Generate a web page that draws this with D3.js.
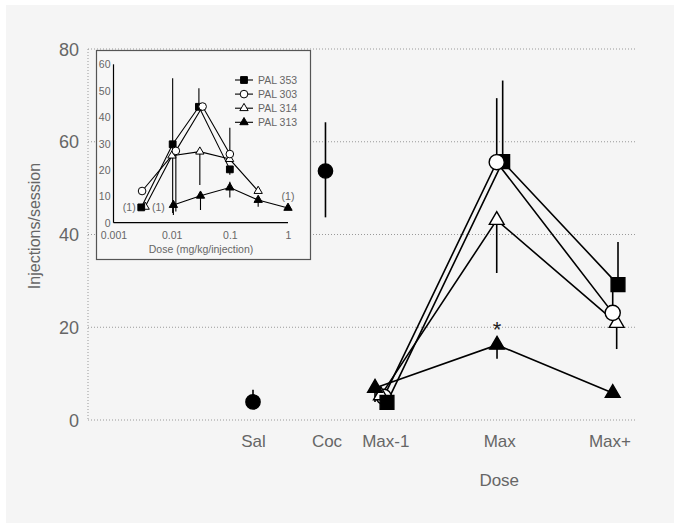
<!DOCTYPE html>
<html><head><meta charset="utf-8">
<script src="https://cdn.jsdelivr.net/npm/d3@7"></script>
<style>
html,body{margin:0;padding:0;background:#fff;}
svg{display:block;font-family:"Liberation Sans",Arial,sans-serif;}
</style></head>
<body>
<script>
// ---------- DATA ----------
const categories = ["Sal", "Coc", "Max-1", "Max", "Max+"];
const categoryPos = [1, 2, 2.8, 4.35, 5.85];
const yTicks = [0, 20, 40, 60, 80];

// Saline / Cocaine controls (filled circles)
const ctrlX = [1.0, 1.986];
const ctrlY = [3.9, 53.7];
const ctrlErrUp = [2.6, 10.5];
const ctrlErrDown = [0, 10];

const seriesNames = ["PAL 353", "PAL 303", "PAL 314", "PAL 313"];
const seriesSymbols = ["square", "circle", "triangle", "triangle"];
const seriesFilled = [true, false, false, true];

// main panel (Max-1, Max, Max+)
const mainX = [
  [2.823, 4.397, 5.966],
  [2.78, 4.316, 5.894],
  [2.74, 4.316, 5.948],
  [2.66, 4.32, 5.894]
];
const mainY = [
  [3.8, 55.7, 29.2],
  [5.0, 55.6, 23.1],
  [5.3, 43.1, 20.9],
  [6.9, 16.2, 5.8]
];
const mainErrUp = [
  [0, 17.5, 9.2],
  [0, 13.8, 4.5],
  [0, 0, 0],
  [0, 0, 0]
];
const mainErrDown = [
  [0, 0, 0],
  [0, 0, 0],
  [1.5, 11.4, 5.6],
  [3, 3, 0]
];

// inset (dose-response)
const insetX = [
  [0.003, 0.0104, 0.0294, 0.1],
  [0.0031, 0.0118, 0.034, 0.1],
  [0.0035, 0.0101, 0.0305, 0.099, 0.307],
  [0.0107, 0.0313, 0.1, 0.307, 1.0]
];
const insetY = [
  [5.8, 29.7, 43.9, 20.2],
  [12, 27.2, 44, 26],
  [6, 25.4, 26.9, 24.1, 12],
  [6.7, 10.2, 13.3, 8.6, 5.6]
];
const insetErrUp = [
  [0, 25, 7, 0],
  [0, 0, 0, 10],
  [0, 0, 0, 0, 0],
  [0, 0, 2.2, 0, 0]
];
const insetErrDown = [
  [0, 26, 0, 2],
  [0, 23, 0, 0],
  [0, 0, 12.6, 0, 0],
  [3.8, 5.4, 3.8, 2.6, 0]
];
const insetYTicks = [0, 10, 20, 30, 40, 50, 60];
const insetXTicks = [0.001, 0.01, 0.1, 1];
const insetXTickLabels = ["0.001", "0.01", "0.1", "1"];
const insetNotes = [
  {dose: 0.003, value: 5.8, text: "(1)"},
  {dose: 0.0107, value: 5.6, text: "(1)"},
  {dose: 1.0, value: 5.6, text: "(1)"}
];

// ---------- DRAW ----------
const W = 674, H = 523;
const svg = d3.select("body").append("svg").attr("width", W).attr("height", H);
svg.append("rect").attr("x", 6).attr("y", 5).attr("width", W - 6).attr("height", H - 5).attr("fill", "#f5f5f5");

const textCol = "#666";
const x = d3.scaleLinear().domain([0, 6]).range([179.5, 620.5]);
const y = d3.scaleLinear().domain([0, 80]).range([420, 49]);
const gridX0 = 88, gridX1 = 636;

const symType = {square: d3.symbolSquare, circle: d3.symbolCircle, triangle: d3.symbolTriangle};
const mainSize = {square: 190, circle: 180, triangle: 95};
const insetSize = {square: 46, circle: 46, triangle: 30};

// grid
const g = svg.append("g");
g.selectAll("line.grid").data(yTicks).join("line")
  .attr("x1", gridX0).attr("x2", gridX1)
  .attr("y1", d => y(d)).attr("y2", d => y(d))
  .attr("stroke", "#999").attr("stroke-width", 1).attr("stroke-dasharray", "1,2");
g.append("line").attr("x1", gridX0).attr("x2", gridX0).attr("y1", y(80)).attr("y2", y(0))
  .attr("stroke", "#999").attr("stroke-width", 1).attr("stroke-dasharray", "1,2");

// y axis labels
const yAxis = d3.axisLeft(y).tickValues(yTicks).tickSize(0).tickPadding(0);
const ya = svg.append("g").attr("transform", `translate(${gridX0 - 9},0)`).call(yAxis);
ya.select(".domain").remove();
ya.selectAll("text").attr("fill", textCol).attr("font-size", 18).attr("dy", "0.34em");

svg.append("text").attr("transform", "translate(40,226) rotate(-90)")
  .attr("text-anchor", "middle").attr("fill", textCol).attr("font-size", 16)
  .text("Injections/session");

// x category labels
const xAxis = d3.axisBottom(x).tickValues(categoryPos).tickFormat((d, i) => categories[i]).tickSize(0).tickPadding(0);
const xa = svg.append("g").attr("transform", `translate(0,${y(0) + 27})`).call(xAxis);
xa.select(".domain").remove();
xa.selectAll("text").attr("fill", textCol).attr("font-size", 17).attr("dy", 0);
svg.append("text").attr("x", x(categoryPos[3])).attr("y", 486).attr("text-anchor", "middle")
  .attr("fill", textCol).attr("font-size", 17).text("Dose");

function drawSeries(parent, xs, ys, eu, ed, sx, sy, lw, drawLine) {
  const pts = xs.map((v, i) => ({x: v, y: ys[i], eu: eu[i], ed: ed[i], i: i}));
  if (drawLine) {
    parent.append("path").datum(pts)
      .attr("d", d3.line().x(d => sx(d.x)).y(d => sy(d.y)))
      .attr("fill", "none").attr("stroke", "#000").attr("stroke-width", lw);
  }
  parent.selectAll(null).data(pts.filter(d => d.eu > 0 || d.ed > 0)).join("line")
    .attr("x1", d => sx(d.x)).attr("x2", d => sx(d.x))
    .attr("y1", d => sy(d.y + d.eu)).attr("y2", d => sy(d.y - d.ed))
    .attr("stroke", "#000").attr("stroke-width", lw);
  return pts;
}
function drawMarkers(parent, pts, sx, sy, sym, filled, size, lw) {
  parent.selectAll(null).data(pts).join("path")
    .attr("transform", d => `translate(${sx(d.x)},${sy(d.y)})`)
    .attr("d", d3.symbol().type(symType[sym]).size(size[sym]))
    .attr("fill", filled ? "#000" : "#fff").attr("stroke", "#000").attr("stroke-width", lw);
}

// main series
const mg = svg.append("g");
const order = [3, 2, 0, 1];
const mainPts = [];
order.forEach(s => {
  mainPts[s] = drawSeries(mg, mainX[s], mainY[s], mainErrUp[s], mainErrDown[s], x, y, 1.6, true);
});
// stacking of markers per dose column (first column: open markers beneath)
const columnOrder = [[1, 2, 3, 0], [3, 2, 0, 1], [3, 2, 0, 1]];
columnOrder.forEach((ord, c) => {
  ord.forEach(s => drawMarkers(mg, [mainPts[s][c]], x, y, seriesSymbols[s], seriesFilled[s], mainSize, 1.4));
});

const ctrlPts = drawSeries(mg, ctrlX, ctrlY, ctrlErrUp, ctrlErrDown, x, y, 1.6, false);
drawMarkers(mg, ctrlPts, x, y, "circle", true, {circle: 160}, 1.4);

// significance asterisk
svg.append("text").attr("x", x(mainX[3][1])).attr("y", y(mainY[3][1]) - 8)
  .attr("text-anchor", "middle").attr("font-size", 22).attr("fill", "#222").text("*");

// ---------- INSET ----------
const ig = svg.append("g");
ig.append("rect").attr("x", 96.5).attr("y", 50.5).attr("width", 214).attr("height", 209)
  .attr("fill", "#f7f7f7").attr("stroke", "#555").attr("stroke-width", 1.2);
const ix = d3.scaleLog().domain([0.001, 1]).range([113.5, 288]);
const iy = d3.scaleLinear().domain([0, 60]).range([222.7, 64.3]);

ig.append("line").attr("x1", ix(0.001)).attr("x2", ix(0.001)).attr("y1", iy(0)).attr("y2", iy(60)).attr("stroke", "#000").attr("stroke-width", 1.2);
ig.append("line").attr("x1", ix(0.001)).attr("x2", ix(1)).attr("y1", iy(0)).attr("y2", iy(0)).attr("stroke", "#000").attr("stroke-width", 1.2);

const iya = ig.append("g").attr("transform", `translate(${ix(0.001) - 3},0)`)
  .call(d3.axisLeft(iy).tickValues(insetYTicks).tickSize(0).tickPadding(0));
iya.select(".domain").remove();
iya.selectAll("text").attr("fill", textCol).attr("font-size", 10.5).attr("dy", "0.34em");

const ixa = ig.append("g").attr("transform", `translate(0,${iy(0) + 9})`)
  .call(d3.axisBottom(ix).tickValues(insetXTicks).tickFormat((d, i) => insetXTickLabels[i]).tickSize(0).tickPadding(0));
ixa.select(".domain").remove();
ixa.selectAll("text").attr("fill", textCol).attr("font-size", 10.5).attr("dy", "0.71em");

ig.append("text").attr("x", 201).attr("y", 253).attr("text-anchor", "middle")
  .attr("fill", textCol).attr("font-size", 10.5).text("Dose (mg/kg/injection)");

const insetPts = [];
order.forEach(s => {
  insetPts[s] = drawSeries(ig, insetX[s], insetY[s], insetErrUp[s], insetErrDown[s], ix, iy, 1.1, true);
});
order.forEach(s => drawMarkers(ig, insetPts[s], ix, iy, seriesSymbols[s], seriesFilled[s], insetSize, 1));

// notes
ig.append("text").attr("x", ix(insetNotes[0].dose) - 12).attr("y", iy(insetNotes[0].value) + 4)
  .attr("text-anchor", "middle").attr("fill", textCol).attr("font-size", 10.5).text(insetNotes[0].text);
ig.append("text").attr("x", ix(insetNotes[1].dose) - 15).attr("y", iy(insetNotes[1].value) + 3)
  .attr("text-anchor", "middle").attr("fill", textCol).attr("font-size", 10.5).text(insetNotes[1].text);
ig.append("text").attr("x", ix(insetNotes[2].dose)).attr("y", iy(insetNotes[2].value) - 8)
  .attr("text-anchor", "middle").attr("fill", textCol).attr("font-size", 10.5).text(insetNotes[2].text);

// legend
const leg = ig.append("g").attr("transform", "translate(235,80)");
seriesNames.forEach((name, i) => {
  const row = leg.append("g").attr("transform", `translate(0,${i * 14.1})`);
  row.append("line").attr("x1", 0).attr("x2", 18).attr("stroke", "#000").attr("stroke-width", 1.1);
  row.append("path").attr("transform", "translate(9,0)")
    .attr("d", d3.symbol().type(symType[seriesSymbols[i]]).size(insetSize[seriesSymbols[i]]))
    .attr("fill", seriesFilled[i] ? "#000" : "#fff").attr("stroke", "#000").attr("stroke-width", 1);
  row.append("text").attr("x", 23).attr("dy", "0.34em").attr("fill", textCol)
    .attr("font-size", 10.5).text(name);
});
</script>
</body></html>
